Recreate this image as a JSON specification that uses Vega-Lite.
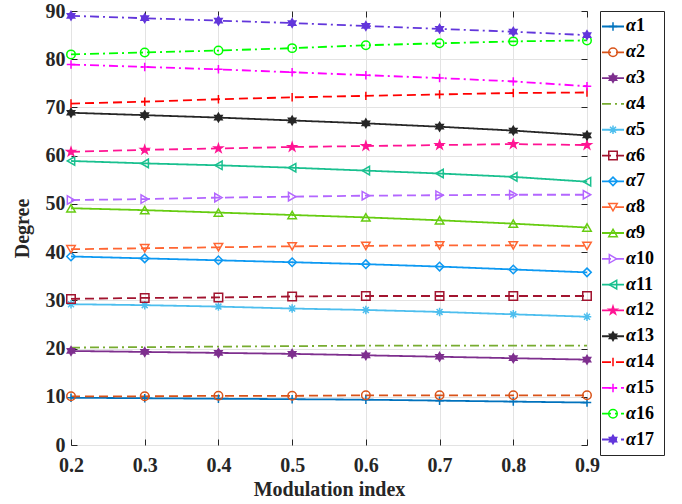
{
"$schema": "https://vega.github.io/schema/vega-lite/v6.json",
"background": "white",
"padding": {"left": 11, "top": 0, "right": 5, "bottom": 5},
"config": {"view": {"stroke": "#262626", "strokeWidth": 1}, "font": "Liberation Serif"},
"datasets": {
"d": [
{"s":"α1","x":0.2,"y":9.8},{"s":"α1","x":0.3,"y":9.7},{"s":"α1","x":0.4,"y":9.6},{"s":"α1","x":0.5,"y":9.5},{"s":"α1","x":0.6,"y":9.4},{"s":"α1","x":0.7,"y":9.2},{"s":"α1","x":0.8,"y":9.0},{"s":"α1","x":0.9,"y":8.8},
{"s":"α2","x":0.2,"y":10.1},{"s":"α2","x":0.3,"y":10.1},{"s":"α2","x":0.4,"y":10.2},{"s":"α2","x":0.5,"y":10.2},{"s":"α2","x":0.6,"y":10.3},{"s":"α2","x":0.7,"y":10.3},{"s":"α2","x":0.8,"y":10.3},{"s":"α2","x":0.9,"y":10.3},
{"s":"α3","x":0.2,"y":19.5},{"s":"α3","x":0.3,"y":19.3},{"s":"α3","x":0.4,"y":19.1},{"s":"α3","x":0.5,"y":18.9},{"s":"α3","x":0.6,"y":18.6},{"s":"α3","x":0.7,"y":18.3},{"s":"α3","x":0.8,"y":18.0},{"s":"α3","x":0.9,"y":17.7},
{"s":"α4","x":0.2,"y":20.2},{"s":"α4","x":0.3,"y":20.3},{"s":"α4","x":0.4,"y":20.4},{"s":"α4","x":0.5,"y":20.5},{"s":"α4","x":0.6,"y":20.6},{"s":"α4","x":0.7,"y":20.6},{"s":"α4","x":0.8,"y":20.6},{"s":"α4","x":0.9,"y":20.6},
{"s":"α5","x":0.2,"y":29.2},{"s":"α5","x":0.3,"y":29.0},{"s":"α5","x":0.4,"y":28.7},{"s":"α5","x":0.5,"y":28.3},{"s":"α5","x":0.6,"y":28.0},{"s":"α5","x":0.7,"y":27.6},{"s":"α5","x":0.8,"y":27.1},{"s":"α5","x":0.9,"y":26.6},
{"s":"α6","x":0.2,"y":30.3},{"s":"α6","x":0.3,"y":30.5},{"s":"α6","x":0.4,"y":30.6},{"s":"α6","x":0.5,"y":30.8},{"s":"α6","x":0.6,"y":30.9},{"s":"α6","x":0.7,"y":30.9},{"s":"α6","x":0.8,"y":30.9},{"s":"α6","x":0.9,"y":30.9},
{"s":"α7","x":0.2,"y":39.1},{"s":"α7","x":0.3,"y":38.7},{"s":"α7","x":0.4,"y":38.3},{"s":"α7","x":0.5,"y":37.9},{"s":"α7","x":0.6,"y":37.5},{"s":"α7","x":0.7,"y":37.0},{"s":"α7","x":0.8,"y":36.4},{"s":"α7","x":0.9,"y":35.8},
{"s":"α8","x":0.2,"y":40.6},{"s":"α8","x":0.3,"y":40.8},{"s":"α8","x":0.4,"y":41.0},{"s":"α8","x":0.5,"y":41.2},{"s":"α8","x":0.6,"y":41.3},{"s":"α8","x":0.7,"y":41.4},{"s":"α8","x":0.8,"y":41.4},{"s":"α8","x":0.9,"y":41.3},
{"s":"α9","x":0.2,"y":49.1},{"s":"α9","x":0.3,"y":48.7},{"s":"α9","x":0.4,"y":48.2},{"s":"α9","x":0.5,"y":47.7},{"s":"α9","x":0.6,"y":47.2},{"s":"α9","x":0.7,"y":46.6},{"s":"α9","x":0.8,"y":45.9},{"s":"α9","x":0.9,"y":45.1},
{"s":"α10","x":0.2,"y":50.8},{"s":"α10","x":0.3,"y":51.0},{"s":"α10","x":0.4,"y":51.3},{"s":"α10","x":0.5,"y":51.5},{"s":"α10","x":0.6,"y":51.7},{"s":"α10","x":0.7,"y":51.8},{"s":"α10","x":0.8,"y":51.9},{"s":"α10","x":0.9,"y":51.9},
{"s":"α11","x":0.2,"y":58.9},{"s":"α11","x":0.3,"y":58.4},{"s":"α11","x":0.4,"y":58.0},{"s":"α11","x":0.5,"y":57.5},{"s":"α11","x":0.6,"y":56.9},{"s":"α11","x":0.7,"y":56.3},{"s":"α11","x":0.8,"y":55.6},{"s":"α11","x":0.9,"y":54.6},
{"s":"α12","x":0.2,"y":60.8},{"s":"α12","x":0.3,"y":61.2},{"s":"α12","x":0.4,"y":61.5},{"s":"α12","x":0.5,"y":61.8},{"s":"α12","x":0.6,"y":62.0},{"s":"α12","x":0.7,"y":62.2},{"s":"α12","x":0.8,"y":62.4},{"s":"α12","x":0.9,"y":62.2},
{"s":"α13","x":0.2,"y":68.9},{"s":"α13","x":0.3,"y":68.4},{"s":"α13","x":0.4,"y":67.9},{"s":"α13","x":0.5,"y":67.3},{"s":"α13","x":0.6,"y":66.7},{"s":"α13","x":0.7,"y":66.0},{"s":"α13","x":0.8,"y":65.2},{"s":"α13","x":0.9,"y":64.2},
{"s":"α14","x":0.2,"y":70.8},{"s":"α14","x":0.3,"y":71.2},{"s":"α14","x":0.4,"y":71.7},{"s":"α14","x":0.5,"y":72.1},{"s":"α14","x":0.6,"y":72.4},{"s":"α14","x":0.7,"y":72.7},{"s":"α14","x":0.8,"y":73.0},{"s":"α14","x":0.9,"y":73.1},
{"s":"α15","x":0.2,"y":78.9},{"s":"α15","x":0.3,"y":78.4},{"s":"α15","x":0.4,"y":77.9},{"s":"α15","x":0.5,"y":77.3},{"s":"α15","x":0.6,"y":76.7},{"s":"α15","x":0.7,"y":76.1},{"s":"α15","x":0.8,"y":75.4},{"s":"α15","x":0.9,"y":74.4},
{"s":"α16","x":0.2,"y":81.0},{"s":"α16","x":0.3,"y":81.4},{"s":"α16","x":0.4,"y":81.8},{"s":"α16","x":0.5,"y":82.3},{"s":"α16","x":0.6,"y":82.9},{"s":"α16","x":0.7,"y":83.3},{"s":"α16","x":0.8,"y":83.7},{"s":"α16","x":0.9,"y":83.9},
{"s":"α17","x":0.2,"y":89.0},{"s":"α17","x":0.3,"y":88.5},{"s":"α17","x":0.4,"y":88.0},{"s":"α17","x":0.5,"y":87.5},{"s":"α17","x":0.6,"y":86.9},{"s":"α17","x":0.7,"y":86.3},{"s":"α17","x":0.8,"y":85.7},{"s":"α17","x":0.9,"y":85.0}
],
"leg": [
{"s":"α1","n":"1"},{"s":"α2","n":"2"},{"s":"α3","n":"3"},{"s":"α4","n":"4"},{"s":"α5","n":"5"},{"s":"α6","n":"6"},{"s":"α7","n":"7"},{"s":"α8","n":"8"},{"s":"α9","n":"9"},{"s":"α10","n":"10"},{"s":"α11","n":"11"},{"s":"α12","n":"12"},{"s":"α13","n":"13"},{"s":"α14","n":"14"},{"s":"α15","n":"15"},{"s":"α16","n":"16"},{"s":"α17","n":"17"}
]
},
"spacing": -2,
"hconcat": [
{
"width": 516, "height": 434,
"data": {"name": "d"},
"layer": [
{"mark": {"type": "line", "strokeWidth": 1.8},
 "encoding": {
  "x": {"field": "x", "type": "quantitative", "scale": {"domain": [0.2, 0.9], "nice": false, "zero": false},
   "axis": {"values": [0.2,0.3,0.4,0.5,0.6,0.7,0.8,0.9], "format": ".1f", "grid": true, "gridColor": "#e3e3e3", "domain": false, "tickSize": -6, "tickColor": "#262626", "labelFlush": false, "labelFont": "Liberation Serif", "labelFontSize": 20, "labelFontWeight": "bold", "labelColor": "#262626", "labelPadding": 16, "title": "Modulation index", "titleFont": "Liberation Serif", "titleFontSize": 20, "titleFontWeight": "bold", "titleColor": "#262626", "titlePadding": 4}},
  "y": {"field": "y", "type": "quantitative", "scale": {"domain": [0, 90], "nice": false},
   "axis": {"values": [0,10,20,30,40,50,60,70,80,90], "grid": true, "gridColor": "#e3e3e3", "domain": false, "tickSize": -6, "tickColor": "#262626", "labelFlush": false, "labelFont": "Liberation Serif", "labelFontSize": 20, "labelFontWeight": "bold", "labelColor": "#262626", "labelPadding": 12, "title": "Degree", "titleFont": "Liberation Serif", "titleFontSize": 20, "titleFontWeight": "bold", "titleColor": "#262626", "titlePadding": 13}},
  "color": {"field": "s", "type": "nominal", "legend": null, "scale": {"domain": ["α1","α2","α3","α4","α5","α6","α7","α8","α9","α10","α11","α12","α13","α14","α15","α16","α17"], "range": ["#0072BD","#D95319","#7E2F8E","#77AC30","#4DBEEE","#A2142F","#0D99F2","#FF6633","#66CC11","#B366FF","#19C08F","#FF1493","#262626","#FF0000","#FF00FF","#00FF00","#6236DB"]}},
  "strokeDash": {"field": "s", "type": "nominal", "legend": null, "scale": {"domain": ["α1","α2","α3","α4","α5","α6","α7","α8","α9","α10","α11","α12","α13","α14","α15","α16","α17"], "range": [[1,0],[9,5],[1,0],[9,4,2,4],[1,0],[9,5],[1,0],[9,5],[1,0],[9,5],[1,0],[9,5],[1,0],[9,5],[9,4,2,4],[9,4,2,4],[9,4,2,4]]}}
 }},
{"mark": {"type": "point", "size": 72, "strokeWidth": 1.5, "opacity": 1},
 "encoding": {
  "x": {"field": "x", "type": "quantitative", "axis": {"orient": "top", "values": [0.2,0.3,0.4,0.5,0.6,0.7,0.8,0.9], "labels": false, "grid": false, "domain": false, "tickSize": -6, "tickColor": "#262626", "title": null}},
  "y": {"field": "y", "type": "quantitative", "axis": {"orient": "right", "values": [0,10,20,30,40,50,60,70,80,90], "labels": false, "grid": false, "domain": false, "tickSize": -6, "tickColor": "#262626", "title": null}},
  "shape": {"field": "s", "type": "nominal", "legend": null, "scale": {"domain": ["α1","α2","α3","α4","α5","α6","α7","α8","α9","α10","α11","α12","α13","α14","α15","α16","α17"], "range": ["M-1,0H1M0,-1V1","circle","M0,-1L0.289,-0.5L0.866,-0.5L0.577,0L0.866,0.5L0.289,0.5L0,1L-0.289,0.5L-0.866,0.5L-0.577,0L-0.866,-0.5L-0.289,-0.5Z","M0,0","M-1,0H1M0,-1V1M-0.7,-0.7L0.7,0.7M-0.7,0.7L0.7,-0.7","square","diamond","triangle-down","triangle-up","triangle-right","triangle-left","M0,-1L0.225,-0.309L0.951,-0.309L0.363,0.118L0.588,0.809L0,0.382L-0.588,0.809L-0.363,0.118L-0.951,-0.309L-0.225,-0.309Z","M0,-1L0.289,-0.5L0.866,-0.5L0.577,0L0.866,0.5L0.289,0.5L0,1L-0.289,0.5L-0.866,0.5L-0.577,0L-0.866,-0.5L-0.289,-0.5Z","M0,-1V1","M-1,0H1M0,-1V1","circle","M0,-1L0.289,-0.5L0.866,-0.5L0.577,0L0.866,0.5L0.289,0.5L0,1L-0.289,0.5L-0.866,0.5L-0.577,0L-0.866,-0.5L-0.289,-0.5Z"]}},
  "stroke": {"field": "s", "type": "nominal", "legend": null, "scale": {"domain": ["α1","α2","α3","α4","α5","α6","α7","α8","α9","α10","α11","α12","α13","α14","α15","α16","α17"], "range": ["#0072BD","#D95319","#7E2F8E","#77AC30","#4DBEEE","#A2142F","#0D99F2","#FF6633","#66CC11","#B366FF","#19C08F","#FF1493","#262626","#FF0000","#FF00FF","#00FF00","#6236DB"]}},
  "fill": {"field": "s", "type": "nominal", "legend": null, "scale": {"domain": ["α1","α2","α3","α4","α5","α6","α7","α8","α9","α10","α11","α12","α13","α14","α15","α16","α17"], "range": ["transparent","transparent","#7E2F8E","transparent","transparent","transparent","transparent","transparent","transparent","transparent","transparent","#FF1493","#262626","transparent","transparent","transparent","#6236DB"]}}
 }}
],
"resolve": {"axis": {"x": "independent", "y": "independent"}}
},
{
"width": 64, "height": 444,
"data": {"name": "leg"},
"view": {"stroke": "#262626"},
"encoding": {"y": {"field": "s", "type": "nominal", "axis": null, "scale": {"type": "point", "padding": 0.6, "domain": ["α1","α2","α3","α4","α5","α6","α7","α8","α9","α10","α11","α12","α13","α14","α15","α16","α17"]}}},
"layer": [
{"mark": {"type": "rule", "strokeWidth": 1.8},
 "encoding": {
  "x": {"datum": 2, "type": "quantitative", "axis": null, "scale": {"domain": [0, 64], "nice": false, "zero": false}},
  "x2": {"datum": 24},
  "color": {"field": "s", "type": "nominal", "legend": null},
  "strokeDash": {"field": "s", "type": "nominal", "legend": null}
 }},
{"mark": {"type": "point", "size": 72, "strokeWidth": 1.5, "opacity": 1},
 "encoding": {
  "x": {"datum": 13, "type": "quantitative", "axis": null},
  "shape": {"field": "s", "type": "nominal", "legend": null},
  "stroke": {"field": "s", "type": "nominal", "legend": null},
  "fill": {"field": "s", "type": "nominal", "legend": null}
 }},
{"mark": {"type": "text", "text": "α", "align": "left", "baseline": "middle", "fontStyle": "italic", "fontWeight": "bold", "fontSize": 18, "font": "Liberation Serif", "color": "#000000"},
 "encoding": {"x": {"datum": 26, "type": "quantitative", "axis": null}}},
{"mark": {"type": "text", "align": "left", "baseline": "middle", "fontWeight": "bold", "fontSize": 18, "font": "Liberation Serif", "color": "#000000"},
 "encoding": {"x": {"datum": 36, "type": "quantitative", "axis": null}, "text": {"field": "n", "type": "nominal"}}}
]
}
]
}
